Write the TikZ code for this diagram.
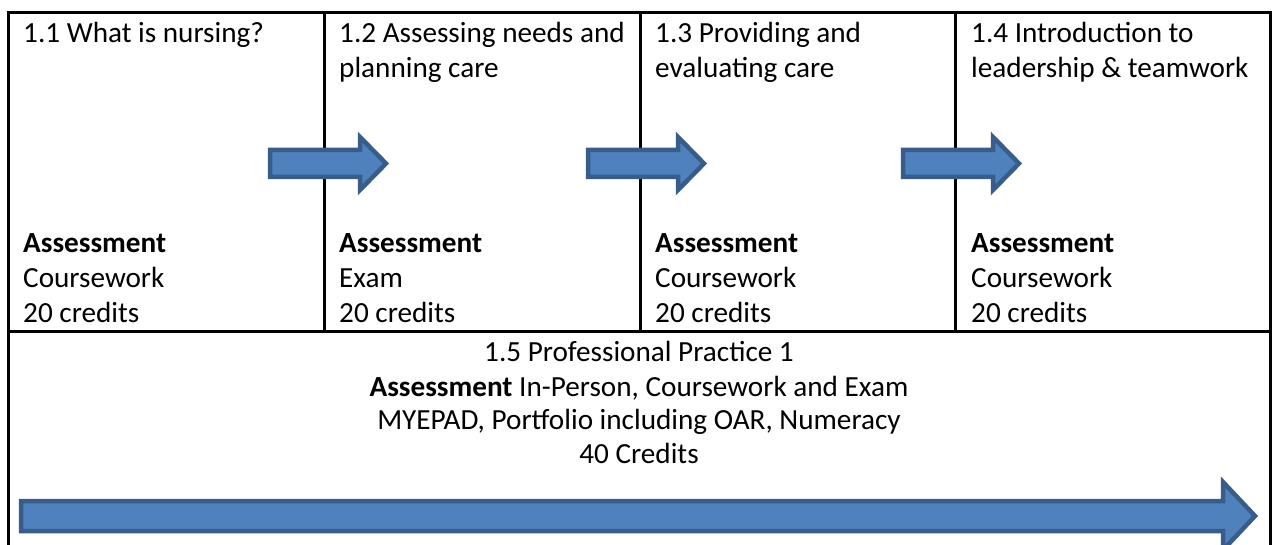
\documentclass[tikz,border=0pt]{standalone}
\usepackage{fontspec}
\setmainfont{Carlito}
\definecolor{arrowfill}{HTML}{4F81BD}
\definecolor{arrowline}{HTML}{385D8A}
\begin{document}
\begin{tikzpicture}[x=1pt,y=-1pt,
  grid/.style={line width=3pt,black},
  blockarrow/.style={fill=arrowfill,draw=arrowline,line width=4.5pt,line join=miter},
  txt/.style={anchor=base west,inner sep=0pt,font=\fontsize{29.2}{35}\selectfont},
  ctxt/.style={anchor=base,inner sep=0pt,font=\fontsize{29.2}{35}\selectfont}]
\useasboundingbox (0,0) rectangle (1278,545);
\clip (0,0) rectangle (1278,545);
% table lines
\coordinate (tl) at (8,13);
\coordinate (tr) at (1270,13);
\coordinate (bl) at (8,560);
\coordinate (br) at (1270,560);
\coordinate (dl) at (8,332);
\coordinate (dr) at (1270,332);
\coordinate (c1t) at (324,13); \coordinate (c1b) at (324,332);
\coordinate (c2t) at (640,13); \coordinate (c2b) at (640,332);
\coordinate (c3t) at (955,13); \coordinate (c3b) at (955,332);
\draw[grid] (bl) -- (tl) -- (tr) -- (br);
\draw[grid] (dl) -- (dr);
\draw[grid] (c1t) -- (c1b);
\draw[grid] (c2t) -- (c2b);
\draw[grid] (c3t) -- (c3b);
% small arrows
\foreach \x in {268,586,901}{
  \draw[blockarrow] (\x+2,150) -- (\x+92,150) -- (\x+92,137) -- (\x+118,163.5)
     -- (\x+92,190) -- (\x+92,177) -- (\x+2,177) -- cycle;
}
% big arrow
\draw[blockarrow] (21,501) -- (1223,501) -- (1223,482) -- (1255,516)
   -- (1223,550) -- (1223,531) -- (21,531) -- cycle;
% row 1 texts
\node[txt] (t1a) at (23,43) {1.1 What is nursing?};
\node[txt] (t2a) at (339,43) {1.2 Assessing needs and};
\node[txt] (t2b) at (339,78) {planning care};
\node[txt] (t3a) at (655,43) {1.3 Providing and};
\node[txt] (t3b) at (655,78) {evaluating care};
\node[txt] (t4a) at (971,43) {1.4 Introduction to};
\node[txt] (t4b) at (971,78) {leadership \& teamwork};
\node[txt] (a1) at (23,253) {\textbf{Assessment}};
\node[txt] (m1) at (23,288) {Coursework};
\node[txt] (c1) at (23,323) {20 credits};
\node[txt] (a2) at (339,253) {\textbf{Assessment}};
\node[txt] (m2) at (339,288) {Exam};
\node[txt] (c2) at (339,323) {20 credits};
\node[txt] (a3) at (655,253) {\textbf{Assessment}};
\node[txt] (m3) at (655,288) {Coursework};
\node[txt] (c3) at (655,323) {20 credits};
\node[txt] (a4) at (971,253) {\textbf{Assessment}};
\node[txt] (m4) at (971,288) {Coursework};
\node[txt] (c4) at (971,323) {20 credits};
% row 2 texts
\node[ctxt] (p1) at (639,362) {1.5 Professional Practice 1};
\node[ctxt] (p2) at (639,396) {\textbf{Assessment} In-Person, Coursework and Exam};
\node[ctxt] (p3) at (639,430) {MYEPAD, Portfolio including OAR, Numeracy};
\node[ctxt] (p4) at (639,464) {40 Credits};
\end{tikzpicture}
\end{document}
